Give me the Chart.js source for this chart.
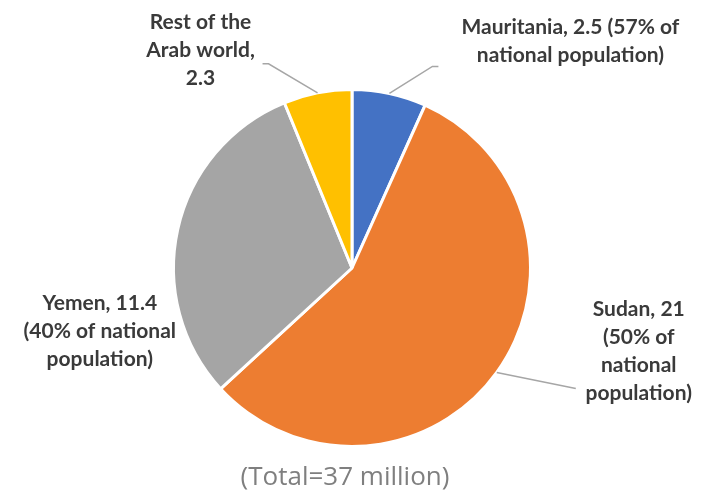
<!DOCTYPE html>
<html>
<head>
<meta charset="utf-8">
<script src="https://cdn.jsdelivr.net/npm/chart.js@4/dist/chart.umd.min.js"></script>
<style>
  html, body { margin: 0; padding: 0; background: #fff; }
  #wrap { width: 714px; height: 496px; }
</style>
</head>
<body>
<div id="wrap"><canvas id="pieChart"></canvas></div>
<script>
var regions = ['Mauritania', 'Sudan', 'Yemen', 'Rest of the Arab world'];
var millions = [2.5, 21, 11.4, 2.3];
var labelLines = [
  ['Mauritania, 2.5 (57% of', 'national population)'],
  ['Sudan, 21', '(50% of', 'national', 'population)'],
  ['Yemen, 11.4', '(40% of national', 'population)'],
  ['Rest of the', 'Arab world,', '2.3']
];
var totalText = '(Total=37 million)';
var colors = ['#4472C4', '#ED7D31', '#A5A5A5', '#FFC000'];

// callout placement relative to the slice's outer edge at its mid angle;
// text = [centre x, first baseline]
var callouts = [
  { elbow: [43, -27], tail: 6, text: [181, -59], leader: true },
  { elbow: [79, 16], tail: 0, text: [142, -56], leader: true },
  { elbow: null, tail: 0, text: [-78, 81], leader: false },
  { elbow: [-49, -29], tail: -6, text: [-117, -64], leader: true }
];

var calloutPlugin = {
  id: 'callouts',
  afterDraw: function (chart) {
    var ctx = chart.ctx;
    var arcs = chart.getDatasetMeta(0).data;
    ctx.save();
    arcs.forEach(function (arc, i) {
      var mid = (arc.startAngle + arc.endAngle) / 2;
      var ex = arc.x + arc.outerRadius * Math.cos(mid);
      var ey = arc.y + arc.outerRadius * Math.sin(mid);
      var c = callouts[i];
      if (c.leader) {
        var bx = ex + c.elbow[0], by = ey + c.elbow[1];
        ctx.strokeStyle = '#a6a6a6';
        ctx.lineWidth = 1.5;
        ctx.beginPath();
        ctx.moveTo(ex, ey);
        ctx.lineTo(bx, by);
        ctx.lineTo(bx + c.tail, by);
        ctx.stroke();
      }
      ctx.fillStyle = '#3a3a3a';
      ctx.font = 'bold 21px Lato';
      ctx.textAlign = 'center';
      ctx.textBaseline = 'alphabetic';
      var tx = ex + c.text[0], ty = ey + c.text[1];
      labelLines[i].forEach(function (ln, k) {
        ctx.fillText(ln, tx, ty + k * 28);
      });
    });
    ctx.fillStyle = '#7f7f7f';
    ctx.font = '26px "Open Sans"';
    ctx.textAlign = 'center';
    ctx.textBaseline = 'alphabetic';
    ctx.fillText(totalText, 345, 485);
    ctx.restore();
  }
};

var pieChart = new Chart(document.getElementById('pieChart'), {
  type: 'pie',
  data: {
    labels: regions,
    datasets: [
      {
        data: millions,
        backgroundColor: colors,
        borderColor: '#ffffff',
        borderWidth: 3
      }
    ]
  },
  options: {
    responsive: true,
    maintainAspectRatio: false,
    animation: false,
    layout: { padding: { top: 88, bottom: 48, left: 0, right: 10 } },
    plugins: {
      legend: { display: false },
      tooltip: { enabled: false }
    }
  },
  plugins: [calloutPlugin]
});
</script>
</body>
</html>
